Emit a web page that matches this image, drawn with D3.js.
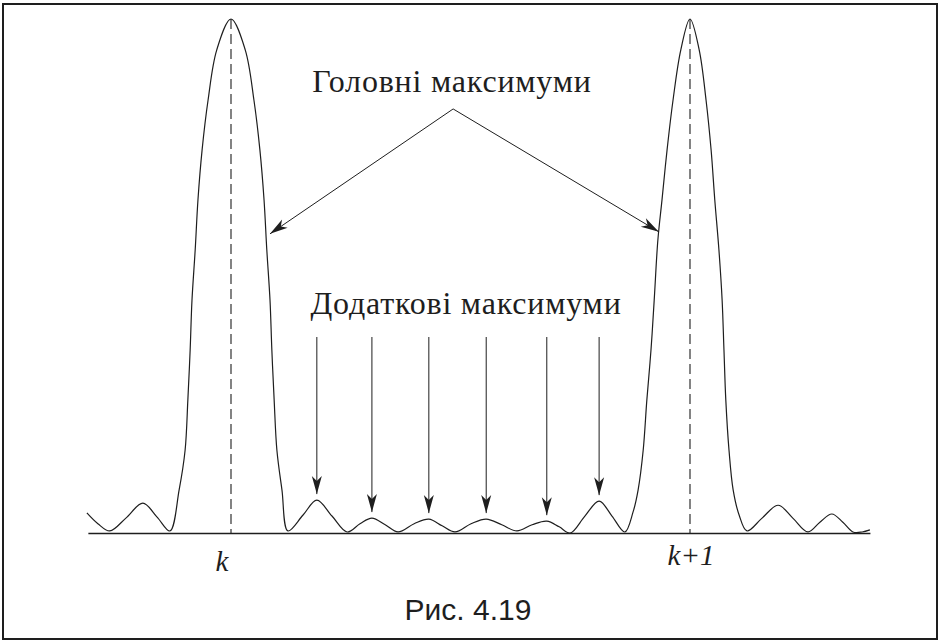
<!DOCTYPE html>
<html>
<head>
<meta charset="utf-8">
<script src="https://cdn.jsdelivr.net/npm/d3@7"></script>
<style>
  html, body { margin: 0; padding: 0; background: #fff; }
  svg { display: block; }
</style>
</head>
<body>
<svg id="fig" width="941" height="643"></svg>
<script>
// Intensity of light behind a diffraction grating between orders k and k+1.
// Phase is measured in units of the order spacing (k -> 0, k+1 -> 1),
// intensity is relative to the principal maximum.
const phase = [
  -0.314, -0.290, -0.264, -0.229, -0.192, -0.161, -0.133,
  -0.113, -0.100, -0.094, -0.089, -0.085, -0.078, -0.072, -0.063, -0.050, -0.031,
  0.000,
  0.031, 0.050, 0.063, 0.072, 0.078, 0.085, 0.089, 0.094, 0.100, 0.111, 0.124,
  0.157, 0.187, 0.220, 0.253, 0.281, 0.307, 0.336, 0.364, 0.399, 0.431, 0.460,
  0.488, 0.523, 0.556, 0.590, 0.623, 0.656, 0.688, 0.715, 0.739, 0.771, 0.802,
  0.830, 0.858,
  0.876, 0.887, 0.898, 0.906, 0.915, 0.922, 0.930, 0.939, 0.950, 0.963, 0.980,
  1.000,
  1.020, 1.035, 1.046, 1.054, 1.063, 1.070, 1.074, 1.078, 1.085, 1.094, 1.107, 1.124,
  1.157, 1.192, 1.224, 1.257, 1.283, 1.309, 1.333, 1.355, 1.375, 1.392
];
const intensity = [
  0.039, 0.018, 0.004, 0.029, 0.058, 0.031, 0.004,
  0.084, 0.161, 0.259, 0.356, 0.453, 0.551, 0.648, 0.745, 0.842, 0.940,
  1.000,
  0.940, 0.842, 0.745, 0.648, 0.551, 0.453, 0.356, 0.259, 0.161, 0.084, 0.004,
  0.035, 0.064, 0.033, 0.002, 0.018, 0.029, 0.016, 0.002, 0.018, 0.027, 0.014,
  0.002, 0.018, 0.027, 0.016, 0.004, 0.016, 0.023, 0.012, 0.000, 0.033, 0.062,
  0.033, 0.002,
  0.041, 0.084, 0.161, 0.259, 0.356, 0.453, 0.570, 0.648, 0.745, 0.842, 0.940,
  1.000,
  0.940, 0.842, 0.745, 0.648, 0.551, 0.453, 0.356, 0.259, 0.161, 0.084, 0.035, 0.004,
  0.029, 0.054, 0.029, 0.002, 0.021, 0.037, 0.021, 0.002, 0.002, 0.006
];

// Order labels under the principal maxima
const orderPhase = [0, 1];
const orderLabels = ["k", "k+1"];

// Annotation texts
const mainTitle = "Головні максимуми";
const sideTitle = "Додаткові максимуми";
const caption = "Рис. 4.19";

// Where the two "principal maxima" arrows start and end (phase, intensity)
const mainArrowFrom = [0.484, 0.825];
const mainArrowTo = [[0.085, 0.582], [0.932, 0.586]];

const data = phase.map((p, i) => ({ p, v: intensity[i] }));

const svg = d3.select("#fig");
const ink = "#1e1e1e";
const serif = "\"Liberation Serif\"";
const sans = "\"Liberation Sans\"";

const x = d3.scaleLinear().domain([0, 1]).range([231, 690]);
const y = d3.scaleLinear().domain([0, 1]).range([533, 19]);

// Frame
svg.append("rect")
  .attr("x", 3).attr("y", 4).attr("width", 934).attr("height", 635)
  .attr("fill", "none").attr("stroke", ink).attr("stroke-width", 2);

// Arrowhead marker
const defs = svg.append("defs");
defs.append("marker")
  .attr("id", "head")
  .attr("markerUnits", "userSpaceOnUse")
  .attr("viewBox", "-19 -6 20 12")
  .attr("refX", 0).attr("refY", 0)
  .attr("markerWidth", 20).attr("markerHeight", 12)
  .attr("orient", "auto")
  .append("path")
  .attr("d", "M0,0 L-18,-5 L-13,0 L-18,5 Z")
  .attr("fill", ink);

// Baseline
const extent = d3.extent(phase);
svg.append("g")
  .attr("transform", `translate(0,${y(0)})`)
  .call(d3.axisBottom(d3.scaleLinear().domain(extent).range([x(extent[0]) + 1, x(extent[1])]))
    .tickValues([]).tickSizeOuter(0))
  .call(g => g.select(".domain").attr("stroke", ink).attr("stroke-width", 1.4));

// Dashed lines through the principal maxima
svg.selectAll("line.order")
  .data(orderPhase)
  .join("line")
  .attr("class", "order")
  .attr("x1", d => x(d)).attr("x2", d => x(d))
  .attr("y1", y(1)).attr("y2", y(0))
  .attr("stroke", ink).attr("stroke-width", 1.1)
  .attr("stroke-dasharray", "10,5");

// Intensity curve
const line = d3.line()
  .x(d => x(d.p))
  .y(d => y(d.v))
  .curve(d3.curveCatmullRom.alpha(0.5));

svg.append("path")
  .datum(data)
  .attr("d", line)
  .attr("fill", "none")
  .attr("stroke", ink)
  .attr("stroke-width", 1.2);

// Order labels
svg.selectAll("text.order")
  .data(orderPhase)
  .join("text")
  .attr("class", "order")
  .attr("x", (d, i) => x(d) + (i === 0 ? -9 : 1))
  .attr("y", (d, i) => i === 0 ? 571 : 565)
  .attr("text-anchor", "middle")
  .style("font-family", serif)
  .style("font-style", "italic")
  .style("font-size", "29px")
  .attr("fill", ink)
  .text((d, i) => orderLabels[i]);

// Principal maxima annotation
svg.append("text")
  .attr("x", 452).attr("y", 92)
  .attr("text-anchor", "middle")
  .style("font-family", serif)
  .style("font-size", "32px")
  .style("letter-spacing", "0.8px")
  .attr("fill", ink)
  .text(mainTitle);

svg.selectAll("line.main-arrow")
  .data(mainArrowTo)
  .join("line")
  .attr("class", "main-arrow")
  .attr("x1", x(mainArrowFrom[0])).attr("y1", y(mainArrowFrom[1]))
  .attr("x2", d => x(d[0])).attr("y2", d => y(d[1]))
  .attr("stroke", ink).attr("stroke-width", 1)
  .attr("marker-end", "url(#head)");

// Secondary maxima: local peaks of the curve between the two orders
const sideMax = data.filter((d, i) =>
  i > 0 && i < data.length - 1 && d.p > 0.1 && d.p < 0.9 &&
  d.v > data[i - 1].v && d.v > data[i + 1].v);

svg.append("text")
  .attr("x", 466).attr("y", 314)
  .attr("text-anchor", "middle")
  .style("font-family", serif)
  .style("font-size", "32px")
  .style("letter-spacing", "0.8px")
  .attr("fill", ink)
  .text(sideTitle);

svg.selectAll("line.side-arrow")
  .data(sideMax)
  .join("line")
  .attr("class", "side-arrow")
  .attr("x1", d => x(d.p)).attr("x2", d => x(d.p))
  .attr("y1", 337).attr("y2", d => y(d.v) - 6)
  .attr("stroke", ink).attr("stroke-width", 1)
  .attr("marker-end", "url(#head)");

// Caption
svg.append("text")
  .attr("x", 468).attr("y", 620)
  .attr("text-anchor", "middle")
  .style("font-family", sans)
  .style("font-size", "30px")
  .attr("fill", ink)
  .text(caption);
</script>
</body>
</html>
